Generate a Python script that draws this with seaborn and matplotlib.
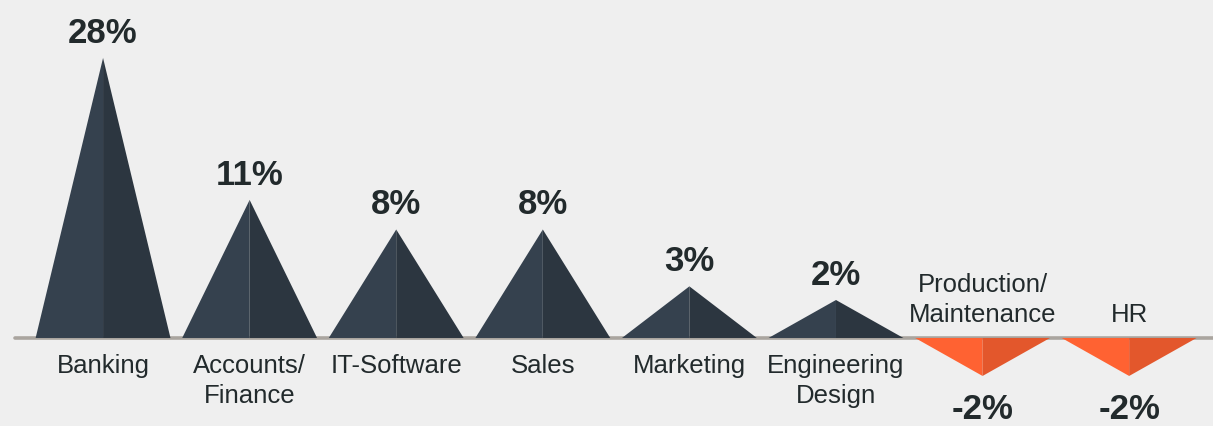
import numpy as np
import pandas as pd
import matplotlib
matplotlib.use('Agg')
import matplotlib.pyplot as plt
import seaborn as sns

categories = ['Banking', 'Accounts/\nFinance', 'IT-Software', 'Sales', 'Marketing',
              'Engineering\nDesign', 'Production/\nMaintenance', 'HR']
values = [28, 11, 8, 8, 3, 2, -2, -2]

posLight, posDark = '#35414e', '#2c3640'
negLight, negDark = '#ff6232', '#e3572c'
bg = '#efefef'

sns.set_theme(style='white', rc={'figure.facecolor': bg, 'axes.facecolor': bg})
plt.rcParams['font.family'] = ['Liberation Sans', 'DejaVu Sans']

df = pd.DataFrame({'category': categories, 'value': values})
df['pos'] = np.arange(len(df))

# infographic peaks are not linear in value: signed power scale
p = 0.757
def fwd(v):
    v = np.asarray(v, dtype=float)
    return np.sign(v) * np.abs(v) ** p
def inv(u):
    u = np.asarray(u, dtype=float)
    return np.sign(u) * np.abs(u) ** (1 / p)

fig = plt.figure(figsize=(12.13, 4.26), dpi=100)
ax = fig.add_axes([0, 0, 1, 1])
ax.set_yscale('function', functions=(fwd, inv))
ax.set_xlim(-0.703, 7.572)
ax.set_ylim(-6.07, 35.9)

half = 0.46
sns.lineplot(x=[-0.6, 7.6], y=[0, 0], ax=ax, color='#aaa59f', lw=2.6, zorder=1)

for _, r in df.iterrows():
    x, v = r['pos'], r['value']
    light, dark = (posLight, posDark) if v > 0 else (negLight, negDark)
    ax.fill([x - half, x, x], [0, v, 0], color=light, lw=0, zorder=2)
    ax.fill([x, x, x + half], [0, v, 0], color=dark, lw=0, zorder=2)
    if v > 0:
        ax.annotate(f'{v}%', (x, v), xytext=(0, 11), textcoords='offset points',
                    ha='center', va='baseline', fontsize=25, fontweight='bold', color='#222a2c')
        ax.annotate(r['category'], (x, 0), xytext=(0, -11.5), textcoords='offset points',
                    ha='center', va='top', fontsize=18.5, color='#222a2c', linespacing=1.3)
    else:
        ax.annotate(f'{v}%', (x, v), xytext=(0, -12), textcoords='offset points',
                    ha='center', va='top', fontsize=25, fontweight='bold', color='#222a2c')
        ax.annotate(r['category'], (x, 0), xytext=(0, 8), textcoords='offset points',
                    ha='center', va='bottom', fontsize=18.5, color='#222a2c', linespacing=1.3)

ax.axis('off')
fig.savefig('out.png', dpi=100, facecolor=bg)
